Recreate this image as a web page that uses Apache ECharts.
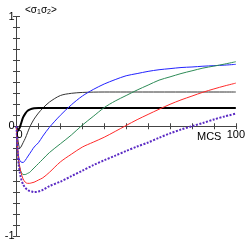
<!DOCTYPE html>
<html>
<head>
<meta charset="utf-8">
<script src="https://cdn.jsdelivr.net/npm/echarts@6/dist/echarts.min.js"></script>
<style>html,body{margin:0;padding:0;background:#fff}#c{width:248px;height:245px}</style>
</head>
<body>
<div id="c"></div>
<script>
var mcs = [0,0.5,1,1.5,2,3,4,5,6,7,8,10,12,15,20,25,30,35,40,45,50,55,60,65,70,75,80,85,90,95,100];
var thickBlack = [0,-0.04,-0.03,-0.01,0.02,0.08,0.115,0.14,0.152,0.16,0.164,0.166,0.166,0.166,0.166,0.166,0.166,0.166,0.166,0.166,0.166,0.166,0.166,0.166,0.166,0.166,0.166,0.166,0.166,0.166,0.166];
var thinBlack = [0,-0.1,-0.17,-0.2,-0.19,-0.15,-0.11,-0.06,-0.01,0.03,0.065,0.12,0.165,0.22,0.28,0.3,0.308,0.311,0.312,0.312,0.312,0.312,0.312,0.312,0.312,0.312,0.312,0.312,0.312,0.312,0.312];
var blue = [0,-0.2,-0.28,-0.31,-0.325,-0.33,-0.31,-0.28,-0.25,-0.22,-0.19,-0.15,-0.09,-0.01,0.1,0.195,0.275,0.335,0.385,0.425,0.46,0.48,0.5,0.515,0.525,0.535,0.54,0.547,0.552,0.557,0.564];
var green = [0,-0.22,-0.33,-0.38,-0.41,-0.44,-0.44,-0.43,-0.42,-0.4,-0.38,-0.34,-0.3,-0.24,-0.16,-0.08,0.01,0.09,0.17,0.23,0.28,0.33,0.375,0.42,0.45,0.48,0.505,0.53,0.548,0.567,0.588];
var red = [0,-0.2,-0.31,-0.37,-0.42,-0.48,-0.51,-0.52,-0.52,-0.515,-0.51,-0.49,-0.47,-0.42,-0.325,-0.255,-0.19,-0.145,-0.1,-0.047,0.007,0.06,0.108,0.155,0.2,0.24,0.275,0.31,0.34,0.368,0.393];
var purple = [0,-0.22,-0.35,-0.42,-0.47,-0.53,-0.56,-0.58,-0.59,-0.595,-0.6,-0.595,-0.58,-0.545,-0.505,-0.455,-0.405,-0.355,-0.31,-0.268,-0.225,-0.185,-0.148,-0.105,-0.065,-0.03,0.0,0.03,0.062,0.09,0.115];
var yTickLabels = {'1':'1','0':'0','-1':'-1'};
var xTickLabels = {'0':'0','100':'100'};

function pairs(ys){ return mcs.map(function(x,i){ return [x, ys[i]]; }); }

var chart = echarts.init(document.getElementById('c'), null, {renderer:'canvas'});
var axisCol = '#444';
var font = 'Liberation Sans, Arial, sans-serif';
var G = {left:16.5, right:11.3, top:16.5, bottom:9};
var gridH = 245 - G.top - G.bottom;
var gridRect = {left:G.left, right:G.right, top:G.top, bottom:G.bottom, containLabel:false};
function xAx(inside, gi){
  return {type:'value', gridIndex:gi, min:0, max:100, interval:10, position:'bottom',
    offset:-gridH/2,
    axisLine:{show:true, onZero:false, lineStyle:{color:axisCol, width:1}},
    axisTick:{show:true, inside:inside, length:3, lineStyle:{color:axisCol}},
    axisLabel:{show:!inside, margin:3, color:'#000', fontSize:11, fontFamily:font,
      showMinLabel:true, showMaxLabel:true, hideOverlap:false,
      formatter:function(v){ var k=String(Math.round(v)); return k==='0' ? '' : (xTickLabels[k]||''); }},
    splitLine:{show:false}};
}
function yAx(inside, gi){
  return {type:'value', gridIndex:gi, min:-1, max:1, interval:0.1, position:'left',
    axisLine:{show:true, onZero:false, lineStyle:{color:axisCol, width:1}},
    axisTick:{show:true, inside:inside, length:3.5, lineStyle:{color:axisCol}},
    axisLabel:{show:!inside, margin:2, color:'#000', fontSize:11, fontFamily:font,
      showMinLabel:true, showMaxLabel:true, hideOverlap:false,
      formatter:function(v){ var k=String(Math.round(v*10)/10); return yTickLabels[k]||''; }},
    splitLine:{show:false}};
}
function line(data, color, width, type){
  return {type:'line', data:pairs(data), showSymbol:false, smooth:0.3,
    xAxisIndex:0, yAxisIndex:0, animation:false, z:3,
    lineStyle:{color:color, width:width, type:type||'solid'}};
}
chart.setOption({
  animation:false,
  grid:[gridRect, gridRect],
  title:{text:'<σ{s|1}σ{s|2}>', left:20, top:0,
    textStyle:{fontSize:10, fontWeight:'normal', color:'#000', fontFamily:font,
      rich:{s:{fontSize:7, verticalAlign:'bottom', padding:[4,0,0,0], fontFamily:font}}}},
  xAxis:[xAx(false,0), xAx(true,1)],
  yAxis:[yAx(false,0), yAx(true,1)],
  graphic:{elements:[
    {type:'text', left:197, top:131, z:100, style:{text:'MCS', fontSize:11, fontFamily:font, fill:'#000'}},
    {type:'text', left:G.left, top:G.top + gridH/2 + 3, z:100, style:{text:xTickLabels['0'], fontSize:11, fontFamily:font, fill:'#000'}}
  ]},
  series:[
    line(thinBlack, '#333', 1),
    line(thickBlack, '#000', 2),
    line(blue, '#2222ff', 1),
    line(green, '#2e8b57', 1),
    line(red, '#ff2a2a', 1),
    line(purple, '#5b2bc4', 2, [2,1.5])
  ]
});
</script>
</body>
</html>
